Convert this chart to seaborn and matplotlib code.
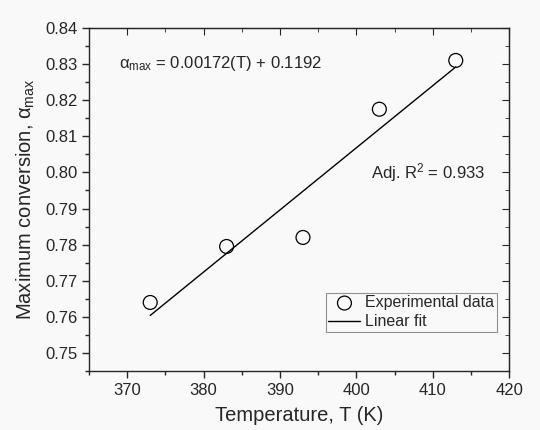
import numpy as np
import pandas as pd
import seaborn as sns
from matplotlib import pyplot as plt
from matplotlib.ticker import MultipleLocator

# data
temperature = [373, 383, 393, 403, 413]
alpha_max = [0.764, 0.7795, 0.782, 0.8175, 0.831]

data = pd.DataFrame({'T': temperature, 'alpha': alpha_max})

sns.set_style('ticks')
plt.rcParams['font.family'] = ['Liberation Sans', 'DejaVu Sans']
plt.rcParams['mathtext.fontset'] = 'custom'
plt.rcParams['mathtext.rm'] = 'Liberation Sans'
plt.rcParams['mathtext.it'] = 'Liberation Sans'

bg = '#f9f9f9'
fig = plt.figure(figsize=(5.4, 4.3), dpi=100, facecolor=bg)
ax = fig.add_axes([0.165, 0.137, 0.778, 0.798])
ax.set_facecolor(bg)

sns.regplot(data=data, x='T', y='alpha', ax=ax, ci=None, scatter=False,
            line_kws={'color': 'black', 'lw': 1.0}, label='Linear fit')
sns.scatterplot(data=data, x='T', y='alpha', ax=ax, marker='o', s=100,
                facecolor='none', edgecolor='black', linewidth=0.9,
                label='Experimental data', zorder=3)

ax.set_xlim(365, 420)
ax.set_ylim(0.745, 0.84)
ax.xaxis.set_major_locator(MultipleLocator(10))
ax.xaxis.set_minor_locator(MultipleLocator(5))
ax.yaxis.set_major_locator(MultipleLocator(0.01))
ax.yaxis.set_minor_locator(MultipleLocator(0.005))
ax.yaxis.set_major_formatter(plt.FormatStrFormatter('%.2f'))

ax.tick_params(axis='both', which='major', length=5, width=1, labelsize=12)
ax.tick_params(axis='both', which='minor', length=3, width=1)
for s in ax.spines.values():
    s.set_linewidth(1.0)

# mirrored ticks on top/right, pointing inward
top = ax.secondary_xaxis('top')
top.xaxis.set_major_locator(MultipleLocator(10))
top.xaxis.set_minor_locator(MultipleLocator(5))
top.tick_params(which='both', direction='in', labeltop=False)
top.tick_params(which='major', length=5)
top.tick_params(which='minor', length=3)
right = ax.secondary_yaxis('right')
right.yaxis.set_major_locator(MultipleLocator(0.01))
right.yaxis.set_minor_locator(MultipleLocator(0.005))
right.tick_params(which='both', direction='in', labelright=False)
right.tick_params(which='major', length=5)
right.tick_params(which='minor', length=3)

ax.set_xlabel('Temperature, T (K)', fontsize=14.5, labelpad=6)
ax.set_ylabel(r'Maximum conversion, $\alpha_{\rm max}$', fontsize=14.5, labelpad=6)

ax.text(0.07, 0.895, r'$\alpha_{\rm max}$ = 0.00172(T) + 0.1192',
        transform=ax.transAxes, fontsize=12, va='center')
ax.text(0.67, 0.58, r'Adj. R$^2$ = 0.933', transform=ax.transAxes,
        fontsize=12, va='center')

handles, labels = ax.get_legend_handles_labels()
order = [labels.index('Experimental data'), labels.index('Linear fit')]
leg = ax.legend([handles[i] for i in order], [labels[i] for i in order],
                loc='lower right', bbox_to_anchor=(0.97, 0.115), fontsize=11.5,
                frameon=True, fancybox=False, handlelength=2.0,
                borderpad=0.15, labelspacing=0.25, handletextpad=0.3,
                borderaxespad=0)
leg.get_frame().set_edgecolor('#777777')
leg.get_frame().set_linewidth(0.8)
leg.get_frame().set_facecolor(bg)

fig.savefig('out.png', dpi=100, facecolor=bg)
